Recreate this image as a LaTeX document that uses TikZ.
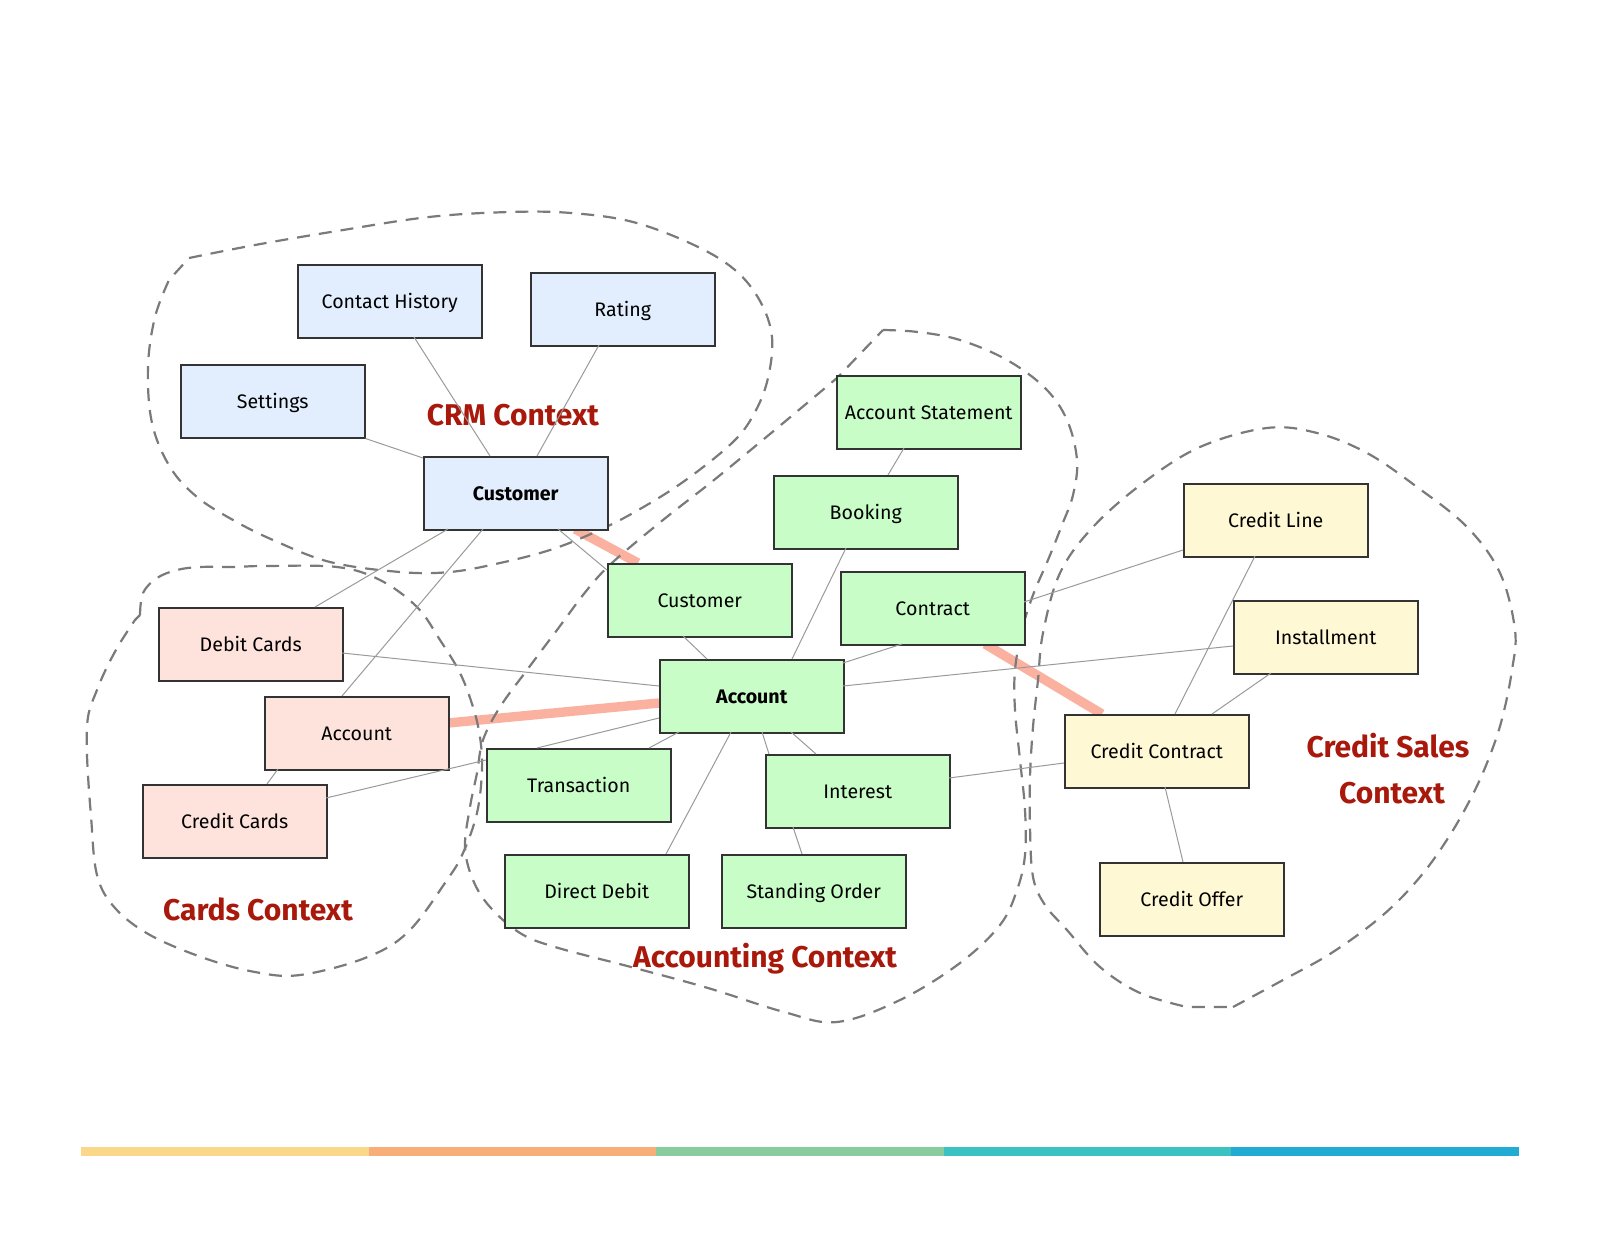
\documentclass[tikz,border=0pt]{standalone}
\usepackage{fontspec}
\setmainfont{Fira Sans}
\usetikzlibrary{calc,backgrounds}
\definecolor{crmblue}{HTML}{E2EEFD}
\definecolor{accgreen}{HTML}{C8FDC8}
\definecolor{cardpink}{HTML}{FDE3DC}
\definecolor{credyellow}{HTML}{FFF8D5}
\definecolor{boxline}{HTML}{333333}
\definecolor{linkgray}{HTML}{9A9A9A}
\definecolor{ctxred}{HTML}{A8190B}
\definecolor{salmon}{HTML}{FBB1A0}
\definecolor{dashgray}{HTML}{7A7A7A}
\definecolor{barA}{HTML}{FBD78A}
\definecolor{barB}{HTML}{F7AE79}
\definecolor{barC}{HTML}{89CD9F}
\definecolor{barD}{HTML}{3DC2C3}
\definecolor{barE}{HTML}{23ACD3}
\begin{document}
\begin{tikzpicture}[x=0.5pt,y=-0.5pt,
  ent/.style={draw=boxline, line width=0.75pt, minimum width=92pt, minimum height=36.5pt,
    anchor=north west, inner sep=0pt, text height=6.75pt, text depth=0pt,
    font=\fontsize{9.8}{12}\selectfont},
  crmbox/.style={ent, fill=crmblue},
  accbox/.style={ent, fill=accgreen},
  cardbox/.style={ent, fill=cardpink},
  credbox/.style={ent, fill=credyellow},
  keybox/.style={font=\fontsize{9.8}{12}\selectfont\bfseries},
  link/.style={draw=linkgray, line width=0.5pt},
  tie/.style={draw=salmon, line width=4.7pt},
  ctx/.style={draw=dashgray, line width=1.1pt, dash pattern=on 6.5pt off 4.5pt},
  ctxlabel/.style={text=ctxred, font=\fontsize{15}{18}\selectfont\bfseries, anchor=base, inner sep=0pt},
]
\useasboundingbox (0,0) rectangle (1600,1236);
\begin{scope}[on background layer]
\fill[white] (0,0) rectangle (1600,1236);
\end{scope}

% bounded contexts (dashed)
\draw[ctx] plot[smooth, tension=0.6] coordinates {(189,258) (255,245) (337,231) (429,217) (510,212) (571,213) (633,222) (694,245) (735,270) (760,301) (772,337) (768,378) (755,412) (733,442) (683,482) (633,513) (593,533) (550,550) (500,563) (450,572) (400,572) (330,562) (273,540) (233,520) (197,497) (170,467) (152,423) (148,367) (155,317) (169,280)} -- cycle;

\draw[ctx] plot[smooth, tension=0.6] coordinates {(140,615) (143,593) (157,578) (177,570) (200,567) (233,567) (265,566) (337,567) (380,580) (417,607) (440,640) (460,673) (473,707) (480,737) (482,770) (477,813) (463,853) (447,880) (408,932) (365,958) (300,975) (255,972) (204,958) (150,935) (115,908) (97,875) (91,816) (87,755) (88,717) (97,690) (107,667) (120,643) (135,620)} -- cycle;

\draw[ctx] plot[smooth, tension=0.6] coordinates {(883,330) (918,332) (960,340) (1007,360) (1045,388) (1067,420) (1077,460) (1073,495) (1062,525) (1048,560) (1033,595) (1022,630) (1015,670) (1015,710) (1020,760) (1025,810) (1025,855) (1017,890) (1000,925) (960,963) (900,1000) (837,1022) (784,1012) (708,988) (631,967) (555,947) (520,933) (490,907) (473,880) (465,847) (470,807) (477,773) (483,740) (500,707) (527,670) (557,630) (587,590) (613,562) (663,520) (714,480) (776,429) (837,378)} -- cycle;

\draw[ctx] plot[smooth, tension=0.6] coordinates {(1233,1007) (1283,980) (1333,952) (1383,915) (1420,877) (1450,835) (1475,790) (1492,750) (1503,715) (1512,670) (1515,630) (1500,573) (1467,527) (1417,487) (1367,453) (1317,433) (1267,428) (1200,447) (1143,483) (1093,527) (1060,573) (1043,633) (1038,680) (1033,727) (1030,777) (1030,827) (1033,877) (1045,905) (1067,930) (1100,967) (1140,993) (1187,1007)} -- cycle;

% context labels
\node[ctxlabel] (crmlbl) at (513,425) {CRM Context};
\node[ctxlabel] (cardslbl) at (258,920) {Cards Context};
\node[ctxlabel] (acclbl) at (765,967) {Accounting Context};
\node[ctxlabel] (credlbl1) at (1388,757) {Credit Sales};
\node[ctxlabel] (credlbl2) at (1392,803) {Context};

% CRM context
\node[crmbox] (ch) at (297,264) {Contact History};
\node[crmbox] (rating) at (530,272) {Rating};
\node[crmbox] (settings) at (180,364) {Settings};
\node[crmbox, keybox] (cust) at (423,456) {Customer};

% Accounting context
\node[accbox] (as) at (836,375) {Account Statement};
\node[accbox] (booking) at (773,475) {Booking};
\node[accbox] (custA) at (607,563) {Customer};
\node[accbox] (contract) at (840,571) {Contract};
\node[accbox, keybox] (acc) at (659,659) {Account};
\node[accbox] (trans) at (486,748) {Transaction};
\node[accbox] (interest) at (765,754) {Interest};
\node[accbox] (dd) at (504,854) {Direct Debit};
\node[accbox] (so) at (721,854) {Standing Order};

% Cards context
\node[cardbox] (debit) at (158,607) {Debit Cards};
\node[cardbox] (accC) at (264,696) {Account};
\node[cardbox] (ccards) at (142,784) {Credit Cards};

% Credit sales context
\node[credbox] (cline) at (1183,483) {Credit Line};
\node[credbox] (inst) at (1233,600) {Installment};
\node[credbox] (ccon) at (1064,714) {Credit Contract};
\node[credbox] (coffer) at (1099,862) {Credit Offer};

% context map ties (behind boxes)
\begin{scope}[on background layer]
\draw[tie] ($(cust.north west)+(152,73)$) -- ($(custA.north west)+(31,0)$);
\draw[tie] ($(accC.north west)+(184,27)$) -- ($(acc.north west)+(0,44)$);
\draw[tie] ($(contract.north west)+(145,73)$) -- ($(ccon.north west)+(38,0)$);
\end{scope}

% associations
\draw[link] ($(ch.north west)+(117,73)$) -- ($(cust.north west)+(67,0)$);
\draw[link] ($(rating.north west)+(69,73)$) -- ($(cust.north west)+(114,0)$);
\draw[link] (settings.south east) -- ($(cust.north west)+(0,2)$);
\draw[link] ($(cust.north west)+(25,73)$) -- ($(debit.north west)+(157,0)$);
\draw[link] ($(cust.north west)+(60,73)$) -- ($(accC.north west)+(78,0)$);
\draw[link] ($(cust.north west)+(135,73)$) -- ($(custA.north west)+(0,7)$);
\draw[link] ($(custA.north west)+(76,73)$) -- ($(acc.north west)+(48,0)$);
\draw[link] ($(booking.north west)+(73,73)$) -- ($(acc.north west)+(133,0)$);
\draw[link] ($(as.north west)+(68,73)$) -- ($(booking.north west)+(115,0)$);
\draw[link] ($(contract.north west)+(62,73)$) -- ($(acc.north west)+(184,4)$);
\draw[link] ($(contract.north west)+(184,31)$) -- ($(cline.north west)+(0,67)$);
\draw[link] ($(acc.north west)+(184,27)$) -- ($(inst.north west)+(0,46)$);
\draw[link] ($(debit.north west)+(184,46)$) -- ($(acc.north west)+(0,27)$);
\draw[link] ($(acc.north west)+(0,59)$) -- ($(trans.north west)+(51,0)$);
\draw[link] ($(acc.north west)+(20,73)$) -- ($(trans.north west)+(163,0)$);
\draw[link] ($(acc.north west)+(72,73)$) -- ($(dd.north west)+(162,0)$);
\draw[link] ($(acc.north west)+(103,73)$) -- ($(interest.north west)+(4,0)$);
\draw[link] ($(acc.north west)+(132,73)$) -- ($(interest.north west)+(51,0)$);
\draw[link] ($(interest.north west)+(28,73)$) -- ($(so.north west)+(81,0)$);
\draw[link] ($(interest.north west)+(184,24)$) -- ($(ccon.north west)+(0,49)$);
\draw[link] ($(ccards.north west)+(184,14)$) -- ($(trans.north west)+(0,12)$);
\draw[link] ($(accC.north west)+(14,73)$) -- ($(ccards.north west)+(125,0)$);
\draw[link] ($(cline.north west)+(72,73)$) -- ($(ccon.north west)+(111,0)$);
\draw[link] ($(inst.north west)+(38,73)$) -- ($(ccon.north west)+(148,0)$);
\draw[link] ($(ccon.north west)+(101,73)$) -- ($(coffer.north west)+(84,0)$);

% footer colour bar
\fill[barA] (81,1147) rectangle (368.6,1156);
\fill[barB] (368.6,1147) rectangle (656.2,1156);
\fill[barC] (656.2,1147) rectangle (943.8,1156);
\fill[barD] (943.8,1147) rectangle (1231.4,1156);
\fill[barE] (1231.4,1147) rectangle (1519,1156);
\end{tikzpicture}
\end{document}
